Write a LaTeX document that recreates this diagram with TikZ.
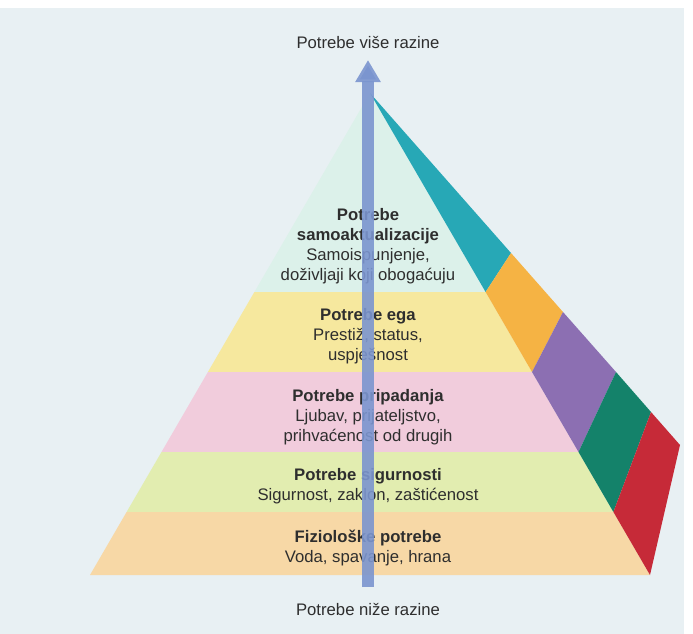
\documentclass[tikz,border=0pt]{standalone}
\usepackage{fontspec}
\setmainfont{Liberation Sans}
\usetikzlibrary{arrows.meta}

\definecolor{paper}{HTML}{E8F0F3}
\definecolor{mint}{HTML}{DCF1EA}
\definecolor{egoyellow}{HTML}{F6E89E}
\definecolor{belongpink}{HTML}{F1CCDC}
\definecolor{safegreen}{HTML}{E2EDB0}
\definecolor{physpeach}{HTML}{F7D8A6}
\definecolor{sidecyan}{HTML}{27A8B6}
\definecolor{sideorange}{HTML}{F5B344}
\definecolor{sidepurple}{HTML}{8C6FB2}
\definecolor{sidegreen}{HTML}{14826A}
\definecolor{sidered}{HTML}{C62A38}
\definecolor{arrowblue}{HTML}{7B95CF}
\definecolor{inkgrey}{HTML}{2E2E2E}

\begin{document}
\begin{tikzpicture}[x=1pt,y=-1pt,
    lbl/.style={align=center,inner sep=0pt,text=inkgrey,font=\fontsize{16.7}{20}\selectfont},
    uparrow/.style={draw=arrowblue,draw opacity=0.9,line width=12pt,-{Triangle[width=24pt,length=22pt]}}]
        \useasboundingbox (0,0) rectangle (693,634);
        \fill[white](0,0)rectangle(693,634);
        \fill[paper](0,8)rectangle(684,634);

        % front face
        \fill[mint](370,93)--(254.4,292)--(485.6,292)--cycle;
        \fill[egoyellow](254.4,292)--(485.6,292)--(532,372)--(207.9,372)--cycle;
        \fill[belongpink](207.9,372)--(532,372)--(578.5,452)--(161.5,452)--cycle;
        \fill[safegreen](161.5,452)--(578.5,452)--(613.4,512)--(126.6,512)--cycle;
        \fill[physpeach](126.6,512)--(613.4,512)--(650,575)--(90,575)--cycle;

        % side face
        \fill[sidecyan](370,93)--(485.6,292)--(511,253)--cycle;
        \fill[sideorange](485.6,292)--(532,372)--(563,312)--(511,253)--cycle;
        \fill[sidepurple](532,372)--(578.5,452)--(616,372)--(563,312)--cycle;
        \fill[sidegreen](578.5,452)--(613.4,512)--(651,412)--(616,372)--cycle;
        \fill[sidered](613.4,512)--(650,575)--(680,445)--(651,412)--cycle;

        \node[lbl] (high) at (368,43) {Potrebe više razine};
        \node[lbl] (low) at (368,609) {Potrebe niže razine};

        \node[lbl] (selfact) at (368,246) {\textbf{Potrebe}\\\textbf{samoaktualizacije}\\Samoispunjenje,\\doživljaji koji obogaćuju};
        \node[lbl] (ego) at (368,336) {\textbf{Potrebe ega}\\Prestiž, status,\\uspješnost};
        \node[lbl] (belong) at (368,417) {\textbf{Potrebe pripadanja}\\Ljubav, prijateljstvo,\\prihvaćenost od drugih};
        \node[lbl] (safety) at (368,486) {\textbf{Potrebe sigurnosti}\\Sigurnost, zaklon, zaštićenost};
        \node[lbl] (physio) at (368,548) {\textbf{Fiziološke potrebe}\\Voda, spavanje, hrana};

        \coordinate (base) at (368,587);
        \coordinate (tip) at (368,60);
        \draw[uparrow](base)--(tip);
    \end{tikzpicture}
\end{document}
